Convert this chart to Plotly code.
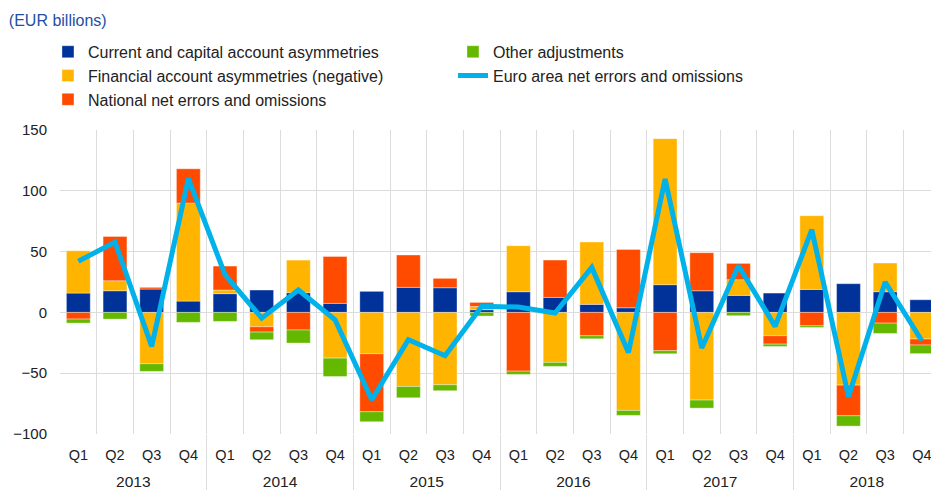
import plotly.graph_objects as go

years = ["2013"] * 4 + ["2014"] * 4 + ["2015"] * 4 + ["2016"] * 4 + ["2017"] * 4 + ["2018"] * 4
quarters = ["Q1", "Q2", "Q3", "Q4"] * 6

current_capital = [15.9, 17.8, 19.2, 9.3, 15.4, 18.4, 16.2, 7.4,
                   17.3, 20.6, 20.3, 2.2, 17.0, 12.3, 6.6, 3.8,
                   22.8, 17.8, 14.0, 15.9, 18.9, 23.6, 17.0, 10.4]
financial_neg = [34.8, 8.2, -42.2, 80.6, 3.0, -11.8, 26.8, -37.6,
                 -34.0, -60.9, -59.5, 2.7, 37.8, -41.1, 51.3, -80.6,
                 120.1, -72.1, 12.9, -19.2, 60.6, -59.8, 23.6, -21.9]
national_eo = [-5.5, 36.5, 1.4, 28.2, 19.7, -4.4, -14.5, 38.6,
               -47.7, 26.6, 7.7, 3.3, -48.3, 30.7, -19.2, 48.0,
               -31.5, 31.3, 13.4, -6.9, -11.0, -25.2, -8.8, -4.9]
other_adj = [-3.3, -5.5, -6.3, -8.2, -7.4, -6.3, -10.7, -15.1,
             -8.2, -9.3, -4.9, -3.0, -2.7, -3.3, -2.5, -4.1,
             -2.5, -6.6, -2.7, -1.9, -1.4, -8.5, -8.5, -7.1]
euro_area_eo = [42, 57.9, -28, 110, 31, -4.7, 18.4, -6,
                -71.8, -22.5, -35.6, 5, 4.4, -0.5, 37, -32.9,
                109.7, -29.3, 38.4, -11.5, 68, -69.1, 25, -23.3]

periods = [f"{q} {y}" for y, q in zip(years, quarters)]
year_names = sorted(set(years))
year_mid = [years.index(y) + years.count(y) / 2 - 0.5 for y in year_names]
year_edges = [years.index(y) - 0.5 for y in year_names[1:]]

font = "Liberation Sans, Arial, sans-serif"
grid = "#dcdcdc"
xrange = [-0.5, 23.25]

fig = go.Figure()

bars = [
    ("Current and capital account asymmetries", current_capital, "#003299", 1),
    ("Financial account asymmetries (negative)", financial_neg, "#ffb400", 3),
    ("National net errors and omissions", national_eo, "#ff4b00", 5),
    ("Other adjustments", other_adj, "#65b800", 2),
]
for name, vals, col, rank in bars:
    fig.add_trace(go.Bar(
        x=periods, y=vals, name=name, legendrank=rank,
        marker=dict(color=col, line=dict(width=0.6, color="rgba(255,255,255,0.6)")),
        width=0.65,
    ))

fig.add_trace(go.Scatter(
    x=periods, y=euro_area_eo, name="Euro area net errors and omissions",
    mode="lines", legendrank=4,
    line=dict(color="#00b1ea", width=5),
))

# empty traces so the year label axis and the divider axis get drawn
for ax in ["x2", "x3"]:
    fig.add_trace(go.Scatter(x=[], y=[], xaxis=ax, showlegend=False, hoverinfo="skip"))

fig.update_layout(
    barmode="relative",
    width=931, height=490,
    margin=dict(l=60, r=0, t=130, b=56, autoexpand=False),
    plot_bgcolor="white", paper_bgcolor="white",
    font=dict(family=font, size=15, color="#222222"),
    title=dict(text="(EUR billions)", x=0.0095, xanchor="left", y=0.959, yanchor="middle",
               font=dict(family=font, size=16, color="#1f4ea3")),
    legend=dict(orientation="h", x=-0.0138, xanchor="left", y=1.313, yanchor="top",
                entrywidth=360, entrywidthmode="pixels", tracegroupgap=0,
                font=dict(family=font, size=16, color="#222222"),
                traceorder="normal"),
    xaxis=dict(
        type="category", range=xrange, tickmode="array", tickvals=periods, ticktext=quarters,
        tickson="boundaries", showgrid=True, gridcolor=grid, gridwidth=1,
        ticks="", showline=False, zeroline=False, ticklabelstandoff=10,
        tickfont=dict(family=font, size=14.5, color="#222222"),
    ),
    xaxis2=dict(
        overlaying="x", anchor="y", side="bottom", range=xrange,
        tickmode="array", tickvals=year_mid, ticktext=year_names,
        ticks="", showgrid=False, zeroline=False, showline=False, ticklabelstandoff=36,
        tickfont=dict(family=font, size=15.5, color="#222222"),
    ),
    xaxis3=dict(
        overlaying="x", anchor="y", side="bottom", range=xrange,
        tickmode="array", tickvals=year_edges, showticklabels=False,
        ticks="outside", ticklen=60, tickcolor=grid, tickwidth=1,
        showgrid=False, zeroline=False, showline=False,
    ),
    yaxis=dict(
        range=[-100, 150], dtick=50, showgrid=True, gridcolor=grid, gridwidth=1,
        zeroline=False, showline=False, ticks="", ticklabelstandoff=12,
        tickfont=dict(family=font, size=15, color="#222222"),
    ),
)

fig.write_html("out.html", config={"displayModeBar": False},
               post_script="document.body.style.margin='0';")
